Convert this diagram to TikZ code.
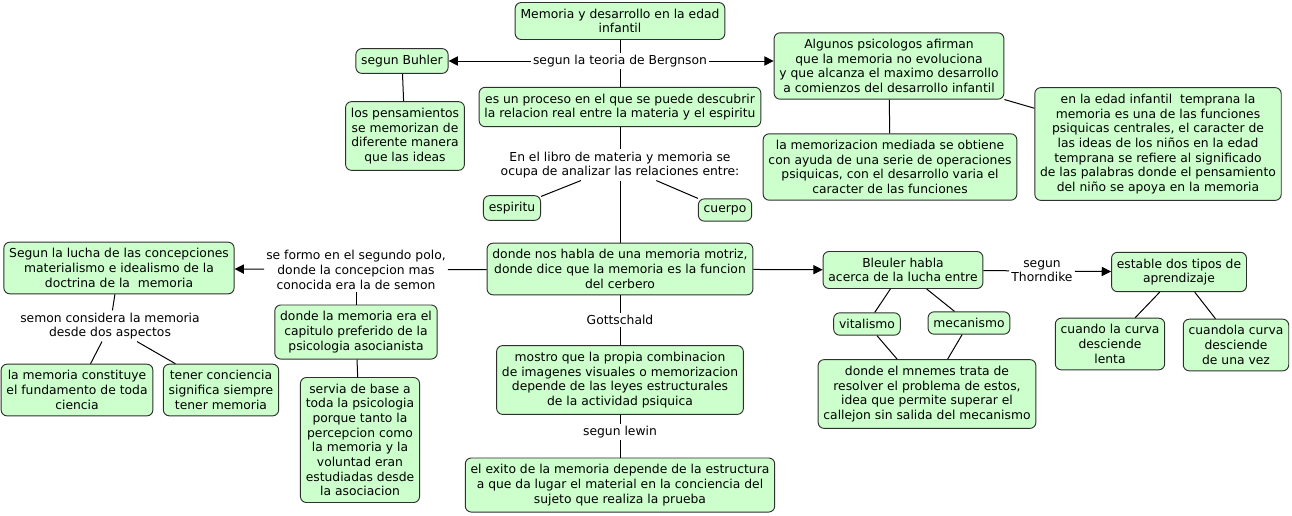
\documentclass[tikz,border=0pt]{standalone}
\usepackage{fontspec}
\setmainfont{DejaVu Sans}
\usetikzlibrary{arrows.meta}
\definecolor{conceptfill}{HTML}{CCFFCC}
\definecolor{conceptline}{HTML}{2F2F2F}

\begin{document}
\begin{tikzpicture}[x=0.75pt,y=-0.75pt,font=\fontsize{9.25}{11}\selectfont]
  \tikzstyle{Concept}=[draw=conceptline,fill=conceptfill,rounded corners=4.5pt,
                       align=center,inner xsep=4pt,inner ysep=4.8pt,line width=0.7pt]
  \tikzstyle{Link}=[align=center,inner sep=1.5pt]
  \tikzstyle{EdgeStyle}=[draw=black,line width=0.75pt]
  \tikzstyle{ArrowStyle}=[EdgeStyle,-{Triangle[length=7pt,width=7pt]}]
  \useasboundingbox (0,0) rectangle (1292,515);

  % top part
  \node[Concept] (title) at (620,21) {Memoria y desarrollo en la edad\\infantil};
  \node[Link] (bergnson) at (620,61) {segun la teoria de Bergnson};
  \node[Concept] (buhler) at (402,61) {segun Buhler};
  \node[Concept] (pensamientos) at (405,136) {los pensamientos\\se memorizan de\\diferente manera\\que las ideas};
  \node[Concept] (proceso) at (620,107) {es un proceso en el que se puede descubrir\\la relacion real entre la materia y el espiritu};
  \node[Concept] (algunos) at (889,66) {Algunos psicologos afirman\\que la memoria no evoluciona\\y que alcanza el maximo desarrollo\\a comienzos del desarrollo infantil};
  \node[Concept] (mediada) at (890,167) {la memorizacion mediada se obtiene\\con ayuda de una serie de operaciones\\psiquicas, con el desarrollo varia el\\caracter de las funciones};
  \node[Concept] (temprana) at (1158,144) {en la edad infantil\ \ temprana la\\memoria es una de las funciones\\psiquicas centrales, el caracter de\\las ideas de los niños en la edad\\temprana se refiere al significado\\de las palabras donde el pensamiento\\del niño se apoya en la memoria};
  \node[Link] (libro) at (620,165) {En el libro de materia y memoria se\\ocupa de analizar las relaciones entre:};
  \node[Concept] (espiritu) at (512,208) {espiritu};
  \node[Concept] (cuerpo) at (725,210) {cuerpo};

  % middle row
  \node[Concept] (motriz) at (620,269) {donde nos habla de una memoria motriz,\\donde dice que la memoria es la funcion\\del cerbero};
  \node[Concept] (lucha) at (119,268) {Segun la lucha de las concepciones\\materialismo e idealismo de la\\doctrina de la\ \ memoria};
  \node[Link] (formo) at (356,270) {se formo en el segundo polo,\\donde la concepcion mas\\conocida era la de semon};
  \node[Link] (semon) at (110,326) {semon considera la memoria\\desde dos aspectos};
  \node[Concept] (ciencia) at (77,390) {la memoria constituye\\el fundamento de toda\\ciencia};
  \node[Concept] (conciencia) at (221,390) {tener conciencia\\significa siempre\\tener memoria};
  \node[Concept] (capitulo) at (356,332) {donde la memoria era el\\capitulo preferido de la\\psicologia asocianista};
  \node[Concept] (servia) at (360,440) {servia de base a\\toda la psicologia\\porque tanto la\\percepcion como\\la memoria y la\\voluntad eran\\estudiadas desde\\la asociacion};
  \node[Link] (gottschald) at (620,320) {Gottschald};
  \node[Concept] (mostro) at (620,380) {mostro que la propia combinacion\\de imagenes visuales o memorizacion\\depende de las leyes estructurales\\de la actividad psiquica};
  \node[Link] (lewin) at (620,432) {segun lewin};
  \node[Concept] (exito) at (620,485) {el exito de la memoria depende de la estructura\\a que da lugar el material en la conciencia del\\sujeto que realiza la prueba};

  % right part
  \node[Concept] (bleuler) at (903,270) {Bleuler habla\\acerca de la lucha entre};
  \node[Link] (thorndike) at (1042,271) {segun\\Thorndike};
  \node[Concept] (estable) at (1179,272) {estable dos tipos de\\aprendizaje};
  \node[Concept] (vitalismo) at (867,324) {vitalismo};
  \node[Concept] (mecanismo) at (969,323) {mecanismo};
  \node[Concept] (mnemes) at (927,394) {donde el mnemes trata de\\resolver el problema de estos,\\idea que permite superar el\\callejon sin salida del mecanismo};
  \node[Concept] (lenta) at (1110,344) {cuando la curva\\desciende\\lenta};
  \node[Concept] (vez) at (1236,345) {cuandola curva\\desciende\\de una vez};

  % edges
  \draw[EdgeStyle] (title) -- (bergnson);
  \draw[EdgeStyle] (bergnson) -- (proceso);
  \draw[ArrowStyle] (bergnson) -- (buhler);
  \draw[ArrowStyle] (bergnson) -- (bergnson -| algunos.west);
  \draw[EdgeStyle] (buhler) -- (pensamientos);
  \draw[EdgeStyle] (proceso) -- (libro);
  \draw[EdgeStyle] (libro) -- (espiritu);
  \draw[EdgeStyle] (libro) -- (cuerpo);
  \draw[EdgeStyle] (libro) -- (motriz);
  \draw[EdgeStyle] (algunos) -- (mediada);
  \draw[EdgeStyle] (algunos) -- (temprana);
  \draw[EdgeStyle] (motriz) -- (formo);
  \draw[ArrowStyle] (formo) -- (lucha);
  \draw[EdgeStyle] (formo) -- (capitulo);
  \draw[EdgeStyle] (lucha) -- (semon);
  \draw[EdgeStyle] (semon) -- (ciencia);
  \draw[EdgeStyle] (semon) -- (conciencia);
  \draw[EdgeStyle] (capitulo) -- (servia);
  \draw[EdgeStyle] (motriz) -- (gottschald);
  \draw[EdgeStyle] (gottschald) -- (mostro);
  \draw[EdgeStyle] (mostro) -- (lewin);
  \draw[EdgeStyle] (lewin) -- (exito);
  \draw[ArrowStyle] (motriz) -- (bleuler);
  \draw[EdgeStyle] (bleuler) -- (thorndike);
  \draw[ArrowStyle] (thorndike) -- (estable);
  \draw[EdgeStyle] (bleuler) -- (vitalismo);
  \draw[EdgeStyle] (bleuler) -- (mecanismo);
  \draw[EdgeStyle] (vitalismo) -- (mnemes);
  \draw[EdgeStyle] (mecanismo) -- (mnemes);
  \draw[EdgeStyle] (estable) -- (lenta);
  \draw[EdgeStyle] (estable) -- (vez);
\end{tikzpicture}
\end{document}
